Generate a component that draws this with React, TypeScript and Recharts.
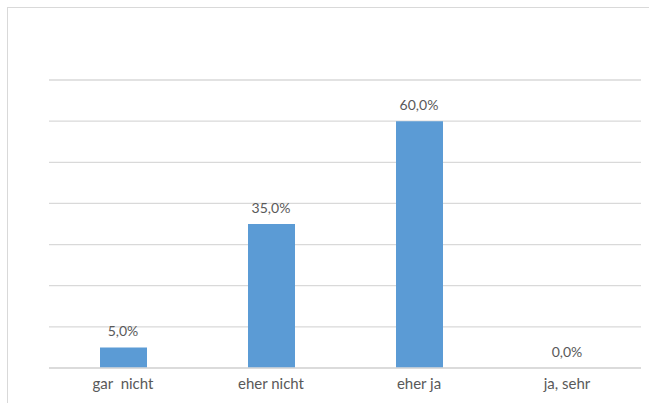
import React from "react";
import { ComposedChart, Bar, Line, XAxis, YAxis, CartesianGrid, LabelList } from "recharts";

const categories = ["gar  nicht", "eher nicht", "eher ja", "ja, sehr"];
const values = [0.05, 0.35, 0.6, 0.0];
const yTicks = [0, 0.1, 0.2, 0.3, 0.4, 0.5, 0.6, 0.7];

const data = categories.map((c, i) => ({ name: c, value: values[i] }));

const fmt = (v: number) => (v * 100).toFixed(1).replace(".", ",") + "%";

const FONT = "Lato, 'Open Sans', sans-serif";
const TEXT = "#595959";

const Tick = (props: any) => {
  const { x, y, payload } = props;
  return (
    <text
      x={x}
      y={y + 2}
      dy="0.71em"
      textAnchor="middle"
      fill={TEXT}
      fontSize={15}
      fontFamily={FONT}
      style={{ whiteSpace: "pre" }}
    >
      {payload.value}
    </text>
  );
};

export default function App() {
  return (
    <div style={{ position: "absolute", left: 0, top: 0, width: 649, height: 403, background: "#fff", overflow: "hidden" }}>
      <div
        style={{
          position: "absolute",
          left: 7,
          top: 7,
          width: 700,
          height: 500,
          borderTop: "1.5px solid #D9D9D9",
          borderLeft: "1.5px solid #D9D9D9",
          boxSizing: "border-box",
        }}
      />
      <div style={{ position: "absolute", left: 0, top: 0 }}>
        <ComposedChart
          width={649}
          height={403}
          data={data}
          margin={{ top: 80, right: 8, bottom: 0, left: 49 }}
        >
          <CartesianGrid vertical={false} stroke="#D9D9D9" strokeWidth={1.3} />
          <YAxis hide domain={[0, 0.7]} ticks={yTicks} />
          <XAxis
            dataKey="name"
            height={35}
            axisLine={{ stroke: "#D9D9D9", strokeWidth: 1.3 }}
            tickLine={false}
            tick={<Tick />}
            interval={0}
          />
          <Bar dataKey="value" fill="#5B9BD5" barSize={47} isAnimationActive={false} />
          <Line
            dataKey="value"
            stroke="none"
            dot={false}
            activeDot={false}
            isAnimationActive={false}
          >
            <LabelList
              dataKey="value"
              position="top"
              offset={11}
              formatter={(v: any) => fmt(Number(v))}
              fill={TEXT}
              fontSize={14}
              fontFamily={FONT}
            />
          </Line>
        </ComposedChart>
      </div>
    </div>
  );
}
